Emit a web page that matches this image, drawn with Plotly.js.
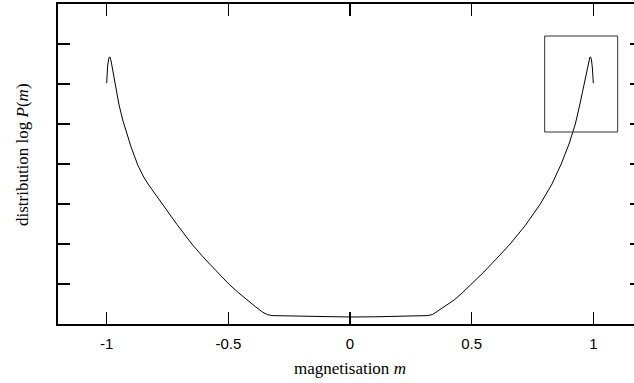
<!DOCTYPE html>
<html>
<head>
<meta charset="utf-8">
<script src="https://cdn.plot.ly/plotly-3.0.1.min.js"></script>
<style>
  html, body { margin: 0; padding: 0; overflow: hidden; background: #fff; }
  #plot { width: 642px; height: 383px; }
</style>
</head>
<body>
<div id="plot"></div>
<script>
// magnetisation values m
const magnetisation = [
  -1.0, -0.996, -0.991, -0.987, -0.982, -0.975, -0.965, -0.95, -0.934, -0.915,
  -0.9, -0.872, -0.85, -0.83, -0.77, -0.71, -0.65, -0.6, -0.55, -0.498,
  -0.46, -0.424, -0.39, -0.36, -0.34, -0.32, -0.2, -0.1, 0.0, 0.1,
  0.2, 0.32, 0.34, 0.36, 0.39, 0.428, 0.46, 0.5, 0.55, 0.6,
  0.658, 0.72, 0.782, 0.83, 0.868, 0.9, 0.926, 0.945, 0.96, 0.972,
  0.98, 0.985, 0.988, 0.992, 0.996, 1.0
];
// distribution log P(m) (arbitrary units)
const logP = [
  6.02, 6.45, 6.65, 6.68, 6.58, 6.35, 5.92, 5.5, 5.1, 4.7,
  4.43, 3.97, 3.7, 3.5, 2.98, 2.48, 2.0, 1.65, 1.33, 1.0,
  0.79, 0.6, 0.44, 0.3, 0.235, 0.21, 0.19, 0.18, 0.175, 0.18,
  0.19, 0.21, 0.24, 0.32, 0.45, 0.6, 0.77, 1.0, 1.3, 1.62,
  2.0, 2.46, 3.0, 3.5, 4.0, 4.5, 5.0, 5.5, 5.95, 6.3,
  6.55, 6.65, 6.68, 6.62, 6.4, 6.02
];
// axis ticks
const xTickVals = [-1, -0.5, 0, 0.5, 1];
const xTickText = ["-1", "-0.5", "0", "0.5", "1"];
const yTickVals = [1, 2, 3, 4, 5, 6, 7];
// zoom box region
const boxM = [0.8, 1.1];
const boxY = [4.8, 7.2];
// axis titles
const xTitle = 'magnetisation <i>m</i>';
const yTitle = 'distribution log <i>P</i>(<i>m</i>)';

const trace = {
  x: magnetisation,
  y: logP,
  type: 'scatter',
  mode: 'lines',
  line: { color: '#000', width: 1 },
  hoverinfo: 'skip'
};

const titleFont = { family: 'Liberation Serif, serif', size: 17, color: '#000' };

const layout = {
  width: 642,
  height: 383,
  margin: { l: 58, r: 0, t: 4, b: 59 },
  paper_bgcolor: '#fff',
  plot_bgcolor: '#fff',
  showlegend: false,
  xaxis: {
    range: [-1.2, 1.2],
    tickvals: xTickVals,
    ticktext: xTickText,
    ticks: 'inside',
    ticklen: 12,
    tickwidth: 1.5,
    tickcolor: '#000',
    ticklabelstandoff: 5,
    showline: true,
    linecolor: '#000',
    linewidth: 2,
    mirror: 'ticks',
    showgrid: false,
    zeroline: false,
    tickfont: { family: 'Liberation Sans, Arial, sans-serif', size: 15, color: '#000' }
  },
  yaxis: {
    range: [0, 8],
    tickvals: yTickVals,
    showticklabels: false,
    ticks: 'inside',
    ticklen: 12,
    tickwidth: 1.5,
    tickcolor: '#000',
    showline: true,
    linecolor: '#000',
    linewidth: 2,
    mirror: 'ticks',
    showgrid: false,
    zeroline: false
  },
  annotations: [
    { text: xTitle, xref: 'paper', yref: 'paper', x: 0.5, y: -0.1375,
      xanchor: 'center', yanchor: 'middle', showarrow: false, font: titleFont },
    { text: yTitle, xref: 'paper', yref: 'paper', x: -0.0616, y: 0.528,
      xanchor: 'center', yanchor: 'middle', textangle: -90, showarrow: false, font: titleFont }
  ],
  shapes: [{
    type: 'rect', xref: 'x', yref: 'y',
    x0: boxM[0], x1: boxM[1], y0: boxY[0], y1: boxY[1],
    line: { color: '#333', width: 1 }
  }]
};

Plotly.newPlot('plot', [trace], layout, { displayModeBar: false, staticPlot: true });
</script>
</body>
</html>
